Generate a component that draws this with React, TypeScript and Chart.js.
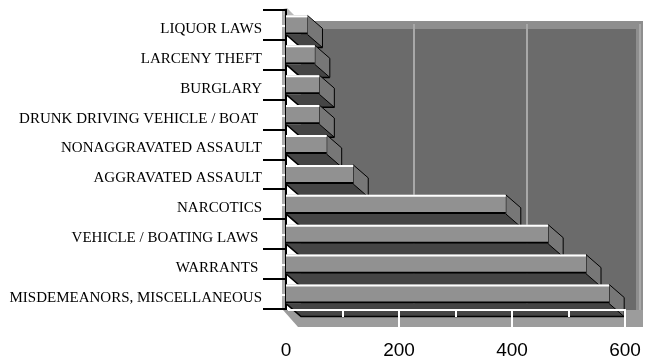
import React, { useEffect, useRef } from "react";
import { Chart, registerables } from "chart.js";

Chart.register(...registerables);

const categories = [
  "LIQUOR LAWS",
  "LARCENY THEFT",
  "BURGLARY",
  "DRUNK DRIVING VEHICLE / BOAT ",
  "NONAGGRAVATED ASSAULT",
  "AGGRAVATED ASSAULT",
  "NARCOTICS",
  "VEHICLE / BOATING LAWS ",
  "WARRANTS ",
  "MISDEMEANORS, MISCELLANEOUS",
];
const arrests = [38, 51, 59, 59, 72, 119, 389, 464, 531, 572];
const xMin = 0;
const xMax = 600;
const xStep = 200;
const minorStep = 100;

const DX = 15;
const DY = 13;

const excel3d = {
  id: "excel3d",
  beforeDraw(chart: any) {
    const { ctx, chartArea: a, scales } = chart;
    const xs = scales.x;
    const ys = scales.y;
    ctx.save();
    // back wall (outer frame + inner face)
    ctx.fillStyle = "#8e8e8e";
    ctx.fillRect(a.left + DX, a.top + 11, a.right + 18 - (a.left + DX), a.bottom + 18 - (a.top + 11));
    ctx.fillStyle = "#6b6b6b";
    ctx.fillRect(a.left + DX, a.top + 19, a.right + 11 - (a.left + DX), a.bottom + 18 - (a.top + 19));
    // gridlines on back wall
    ctx.strokeStyle = "#a8a8a8";
    ctx.lineWidth = 2;
    for (let v = xMin + xStep; v <= xMax; v += xStep) {
      const px = Math.round(xs.getPixelForValue(v)) + DX;
      ctx.beginPath();
      ctx.moveTo(px, a.top + 14);
      ctx.lineTo(px, a.bottom + 14);
      ctx.stroke();
    }
    // floor
    ctx.fillStyle = "#9c9c9c";
    ctx.beginPath();
    ctx.moveTo(a.left - 3, a.bottom + 1);
    ctx.lineTo(a.right + 18, a.bottom + 1);
    ctx.lineTo(a.right + 18, a.bottom + 18);
    ctx.lineTo(a.left + 12, a.bottom + 18);
    ctx.closePath();
    ctx.fill();
    // left wall edge strip
    ctx.fillStyle = "#acacac";
    ctx.fillRect(a.left - 4, a.top + 1, 3, a.bottom - a.top);
    ctx.fillStyle = "#b8b8b8";
    ctx.beginPath();
    ctx.moveTo(a.left - 3, a.top - 1);
    ctx.lineTo(a.left + 1, a.top - 2);
    ctx.lineTo(a.left + 8, a.top + 5);
    ctx.lineTo(a.left - 3, a.top + 5);
    ctx.closePath();
    ctx.fill();
    // white minor ticks at category centres
    ctx.strokeStyle = "#ffffff";
    ctx.lineWidth = 2;
    for (let i = 0; i < categories.length; i++) {
      const py = Math.round(ys.getPixelForValue(i)) + 1;
      ctx.beginPath();
      ctx.moveTo(a.left - 6, py);
      ctx.lineTo(a.left - 1, py);
      ctx.stroke();
    }
    ctx.restore();
  },
  beforeDatasetsDraw(chart: any) {
    const { ctx } = chart;
    const meta = chart.getDatasetMeta(0);
    ctx.save();
    meta.data.forEach((bar: any) => {
      const { x, y, base, height } = bar.getProps(["x", "y", "base", "height"], true);
      const top = y - height / 2;
      const bot = y + height / 2;
      // bottom face
      ctx.fillStyle = "#454545";
      ctx.beginPath();
      ctx.moveTo(base, bot);
      ctx.lineTo(x, bot);
      ctx.lineTo(x + DX, bot + DY);
      ctx.lineTo(base + DX, bot + DY);
      ctx.closePath();
      ctx.fill();
      ctx.strokeStyle = "#000000";
      ctx.lineWidth = 1.5;
      ctx.beginPath();
      ctx.moveTo(base, bot);
      ctx.lineTo(base + DX, bot + DY);
      ctx.lineTo(x + DX, bot + DY);
      ctx.stroke();
      // side face
      ctx.fillStyle = "#777777";
      ctx.beginPath();
      ctx.moveTo(x, top);
      ctx.lineTo(x + DX, top + DY);
      ctx.lineTo(x + DX, bot + DY);
      ctx.lineTo(x, bot);
      ctx.closePath();
      ctx.fill();
      ctx.lineWidth = 1;
      ctx.stroke();
    });
    ctx.restore();
  },
  afterDatasetsDraw(chart: any) {
    const { ctx, chartArea: a, scales } = chart;
    const xs = scales.x;
    const meta = chart.getDatasetMeta(0);
    ctx.save();
    meta.data.forEach((bar: any) => {
      const { x, y, base, height } = bar.getProps(["x", "y", "base", "height"], true);
      const top = y - height / 2;
      const bot = y + height / 2;
      ctx.strokeStyle = "#ffffff";
      ctx.lineWidth = 2;
      ctx.beginPath();
      ctx.moveTo(base, top + 1);
      ctx.lineTo(x, top + 1);
      ctx.stroke();
      ctx.strokeStyle = "#000000";
      ctx.beginPath();
      ctx.moveTo(base, bot - 1);
      ctx.lineTo(x, bot - 1);
      ctx.stroke();
    });
    // front x axis line and ticks (white)
    ctx.strokeStyle = "#ffffff";
    ctx.lineWidth = 2;
    ctx.beginPath();
    ctx.moveTo(a.left + 2, a.bottom + 1);
    ctx.lineTo(a.right, a.bottom + 1);
    ctx.stroke();
    for (let v = xMin + minorStep; v <= xMax; v += minorStep) {
      const px = Math.round(xs.getPixelForValue(v));
      const major = v % xStep === 0;
      ctx.beginPath();
      ctx.moveTo(px, a.bottom);
      ctx.lineTo(px, a.bottom + (major ? 19 : 8));
      ctx.stroke();
    }
    ctx.restore();
  },
};

export default function App() {
  const ref = useRef<HTMLCanvasElement>(null);
  useEffect(() => {
    const chart = new Chart(ref.current as HTMLCanvasElement, {
      type: "bar",
      data: {
        labels: categories,
        datasets: [
          {
            label: "Arrests",
            data: arrests,
            backgroundColor: "#919191",
            borderWidth: 0,
            barPercentage: 0.64,
            categoryPercentage: 1,
          },
        ],
      },
      options: {
        indexAxis: "y",
        responsive: false,
        animation: false,
        devicePixelRatio: 1,
        layout: { padding: { top: 4, right: 33, bottom: 0, left: 0 } },
        plugins: { legend: { display: false }, tooltip: { enabled: false } },
        scales: {
          x: {
            type: "linear",
            min: xMin,
            max: xMax,
            ticks: {
              stepSize: xStep,
              color: "#000000",
              font: { family: "'Liberation Sans', Arial, sans-serif", size: 19 },
              padding: 0,
              maxRotation: 0,
            },
            grid: { display: false, drawTicks: true, tickLength: 30 },
            border: { display: false },
            afterFit: (s: any) => {
              s.height = 55;
            },
          },
          y: {
            type: "category",
            offset: true,
            ticks: {
              color: "#000000",
              font: { family: "'Liberation Serif', 'Times New Roman', serif", size: 15 },
              padding: 1,
              labelOffset: 4,
              autoSkip: false,
            },
            grid: {
              display: true,
              offset: true,
              drawOnChartArea: false,
              drawTicks: true,
              tickLength: 23,
              color: "#000000",
              lineWidth: 2,
            },
            border: { display: true, color: "#000000", width: 2 },
            afterFit: (s: any) => {
              s.width = 286;
            },
          },
        },
      },
      plugins: [excel3d],
    });
    return () => chart.destroy();
  }, []);
  return (
    <div style={{ position: "fixed", left: 0, top: 0, width: 658, height: 364 }}>
      <canvas ref={ref} width={658} height={364} style={{ display: "block" }} />
    </div>
  );
}
